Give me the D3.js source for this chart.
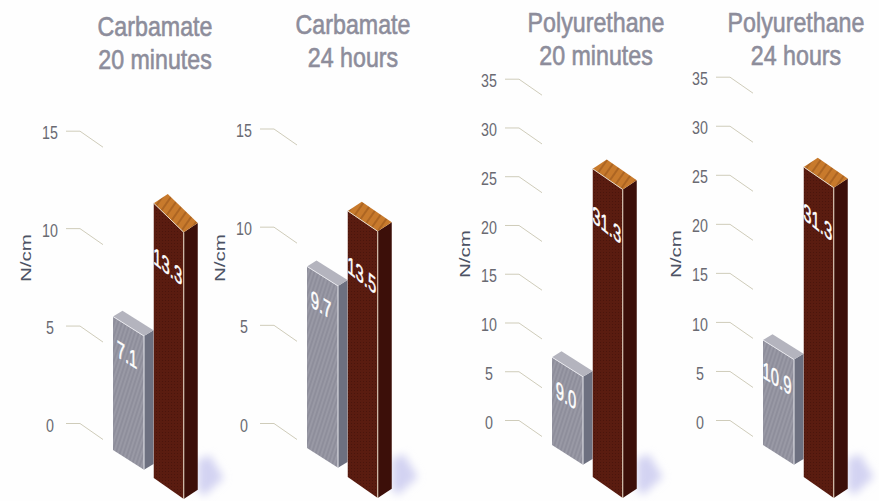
<!DOCTYPE html>
<html>
<head>
<meta charset="utf-8">
<script src="https://cdn.jsdelivr.net/npm/d3@7"></script>
<style>
  html, body { margin: 0; padding: 0; background: #fefefe; }
  svg { display: block; }
  text { font-family: "Liberation Sans", Arial, sans-serif; }
</style>
</head>
<body>
<div id="chart"></div>
<script>
// Chart values
const panels = ["Carbamate 20 minutes", "Carbamate 24 hours", "Polyurethane 20 minutes", "Polyurethane 24 hours"];
const titleLine1 = ["Carbamate", "Carbamate", "Polyurethane", "Polyurethane"];
const titleLine2 = ["20 minutes", "24 hours", "20 minutes", "24 hours"];
const seriesNames = ["grey", "brown"];
// what is printed on the bars
const greyLabels = ["7.1", "9.7", "9.0", "10.9"];
const brownLabels = ["13.3", "13.5", "31.3", "31.3"];
// bar heights as read against each panel's axis
const greyHeights = [6.85, 9.25, 9.0, 10.7];
const brownHeights = [14.1, 13.55, 31.6, 31.6];
const carbamateTicks = [0, 5, 10, 15];
const polyurethaneTicks = [0, 5, 10, 15, 20, 25, 30, 35];
const axisLabel = "N/cm";

// Layout
const width = 879, height = 501;
const originX = d3.scaleOrdinal().domain(panels).range([113, 307, 552, 763]);
const seriesX = d3.scaleBand().domain(seriesNames).range([0, 81.5]);
const yRanges = [[423, 130.7], [423, 128.5], [420, 78.7], [420, 76.7]];
const yDomains = [[0, 15], [0, 15], [0, 35], [0, 35]];
const tickValues = [carbamateTicks, carbamateTicks, polyurethaneTicks, polyurethaneTicks];
const titleX = [155, 353, 596, 796];
const titleY = [36, 34, 32, 32];
const axisTitleY = [258, 258, 254, 254];
const greyBase = [450, 448, 445, 445];
const brownBase = [478, 477, 477, 477];
const brownSlope = [0.97, 0.68, 0.69, 0.69];
const brownLabelDrop = [63, 64, 56, 55];
const tickLabelScale = 0.75;

const svg = d3.select("#chart").append("svg")
  .attr("width", width)
  .attr("height", height);

svg.append("rect").attr("width", width).attr("height", height).attr("fill", "#fefefe");

// Textures and the soft floor shadow
const defs = svg.append("defs");

const greyTex = defs.append("pattern").attr("id", "greyTex")
  .attr("width", 4).attr("height", 5).attr("patternUnits", "userSpaceOnUse")
  .attr("patternTransform", "skewX(-18)");
greyTex.append("rect").attr("width", 4).attr("height", 5).attr("fill", "#8e8e9b");
greyTex.append("line").attr("x1", 1).attr("x2", 1).attr("y1", 0).attr("y2", 5)
  .attr("stroke", "#a4a4af").attr("stroke-width", 1);

const brownTex = defs.append("pattern").attr("id", "brownTex")
  .attr("width", 3).attr("height", 3).attr("patternUnits", "userSpaceOnUse");
brownTex.append("rect").attr("width", 3).attr("height", 3).attr("fill", "#5a1c10");
brownTex.append("rect").attr("width", 1).attr("height", 1).attr("fill", "#4a150c");

const woodTex = defs.append("pattern").attr("id", "woodTex")
  .attr("width", 7).attr("height", 7).attr("patternUnits", "userSpaceOnUse")
  .attr("patternTransform", "rotate(35)");
woodTex.append("rect").attr("width", 7).attr("height", 7).attr("fill", "#c87a2c");
woodTex.append("rect").attr("width", 2).attr("height", 7).attr("fill", "#ad6522");

defs.append("filter").attr("id", "blur")
  .attr("x", "-50%").attr("y", "-50%").attr("width", "200%").attr("height", "200%")
  .append("feGaussianBlur").attr("stdDeviation", 4);

// One 3D-looking bar: front face, side face, top face
function drawBar(g, left, base, barH, w, depth, slope, bottomSlope, rise, colors) {
  const top = base - barH;
  const front = [[left, top], [left + w, top + w * slope], [left + w, base + w * bottomSlope], [left, base]];
  const side = [front[1], [left + w + depth, top + w * slope - depth * rise],
    [left + w + depth, base + w * bottomSlope - depth * rise], front[2]];
  const cap = [front[0], front[1], side[1], [left + depth, top - depth * rise]];
  const line = d3.line().curve(d3.curveLinearClosed);

  g.append("path").attr("d", line(side)).attr("fill", colors.side);
  g.append("path").attr("d", line(cap)).attr("fill", colors.top);
  g.append("path").attr("d", line(front)).attr("fill", colors.front);
  // pale edges where the faces meet
  g.append("path").attr("d", d3.line()([front[0], front[1], front[2]]))
    .attr("fill", "none").attr("stroke", colors.edge).attr("stroke-width", 1);
}

function drawLabel(g, text, cx, cy, slope) {
  const angle = Math.atan(slope) * 180 / Math.PI;
  g.append("text")
    .attr("transform", `translate(${cx},${cy}) skewY(${angle}) scale(0.62,1)`)
    .attr("text-anchor", "middle")
    .attr("dominant-baseline", "central")
    .attr("fill", "#ffffff")
    .attr("stroke", "#ffffff")
    .attr("stroke-width", 0.5)
    .attr("font-size", 24)
    .text(text);
}

panels.forEach((panel, i) => {
  const x0 = originX(panel);
  const g = svg.append("g");

  const y = d3.scaleLinear().domain(yDomains[i]).range(yRanges[i]);

  // Title
  [titleLine1[i], titleLine2[i]].forEach((t, k) => {
    g.append("text")
      .attr("transform", `translate(${titleX[i]},${titleY[i] + k * 33}) scale(0.86,1)`)
      .attr("text-anchor", "middle")
      .attr("font-size", 27)
      .attr("fill", "#8d8d9b")
      .attr("stroke", "#8d8d9b")
      .attr("stroke-width", 0.6)
      .text(t);
  });

  // Axis: tick labels come from the axis, ticks are bent leader lines
  const axis = g.append("g")
    .attr("transform", `translate(${x0 - 47},0)`)
    .call(d3.axisLeft(y).tickValues(tickValues[i]).tickSize(0).tickPadding(9));
  axis.select(".domain").remove();
  axis.selectAll("text")
    .attr("font-size", 19)
    .attr("fill", "#6a6a72")
    .attr("text-anchor", "middle")
    .attr("x", -16 / tickLabelScale)
    .attr("y", 2)
    .attr("transform", `scale(${tickLabelScale},1)`);
  axis.selectAll(".tick").append("path")
    .attr("d", "M0,0H14L37,16")
    .attr("fill", "none")
    .attr("stroke", "#cfccba")
    .attr("stroke-width", 1);

  // Axis title
  g.append("text")
    .attr("transform", `translate(${x0 - 82},${axisTitleY[i]}) rotate(-90)`)
    .attr("text-anchor", "middle")
    .attr("font-size", 15)
    .attr("fill", "#4c5264")
    .attr("textLength", 48)
    .attr("lengthAdjust", "spacingAndGlyphs")
    .text(axisLabel);

  // Shadow on the floor behind the brown bar
  const bx = x0 + seriesX("brown");
  const by = brownBase[i];
  g.append("path")
    .attr("d", d3.line().curve(d3.curveLinearClosed)([
      [bx + 44, by + 12], [bx + 44, by - 18], [bx + 56, by - 23], [bx + 70, by], [bx + 50, by + 18]
    ]))
    .attr("fill", "#d3d3f2")
    .attr("filter", "url(#blur)");

  // Grey bar
  const greyH = y(0) - y(greyHeights[i]);
  const gx = x0 + seriesX("grey");
  drawBar(g, gx, greyBase[i], greyH, 31, 9.5, 0.63, 0.64, 0.62, {
    front: "url(#greyTex)", side: "#6d7080", top: "#b4b4be", edge: "#e9e9ee"
  });
  drawLabel(g, greyLabels[i], gx + 14, greyBase[i] - greyH + 38, 0.63);

  // Brown bar
  const brownH = y(0) - y(brownHeights[i]);
  drawBar(g, bx, by, brownH, 30, 14, brownSlope[i], 0.7, 0.66, {
    front: "url(#brownTex)", side: "#3c0f09", top: "url(#woodTex)", edge: "#eadcc8"
  });
  drawLabel(g, brownLabels[i], bx + 14, by - brownH + brownLabelDrop[i], 0.8);
});
</script>
</body>
</html>
